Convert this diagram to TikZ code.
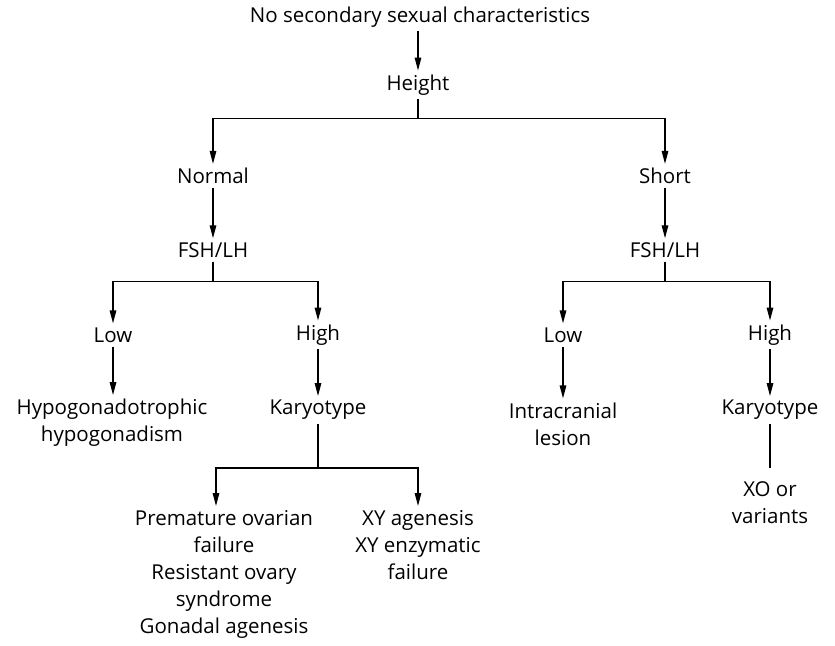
\documentclass[tikz,border=0pt]{standalone}
\usepackage{fontspec}
\setmainfont{Open Sans}
\usetikzlibrary{arrows.meta, positioning, calc}

\begin{document}
\begin{tikzpicture}[
    x=1pt, y=1pt,
    term/.style={font=\fontsize{20.5}{27}\selectfont, align=center, inner sep=4pt},
    arrow/.style={-{Triangle[length=13pt, width=6.5pt]}, line width=1.4pt},
    link/.style={line width=1.4pt},
]
\useasboundingbox (0,0) rectangle (835,-645);

% Top of the tree
\node[term] (start) at (420,-17) {No secondary sexual characteristics};
\node[term] (height) at (418,-85) {Height};

% Height branches
\node[term] (normal) at (213,-176) {Normal};
\node[term] (short) at (665,-176) {Short};
\node[term] (fshL) at (213,-250) {FSH/LH};
\node[term] (fshR) at (665,-250) {FSH/LH};

% FSH/LH levels
\node[term] (lowL) at (113,-335) {Low};
\node[term] (highL) at (318,-335) {High};
\node[term] (lowR) at (563,-335) {Low};
\node[term] (highR) at (770,-335) {High};

% Outcomes
\node[term] (hypo) at (112,-423) {Hypogonadotrophic\\hypogonadism};
\node[term] (karyL) at (318,-410) {Karyotype};
\node[term] (intra) at (563,-424) {Intracranial\\lesion};
\node[term] (karyR) at (770,-410) {Karyotype};
\node[term] (xo) at (770,-503) {XO or\\variants};
\node[term, anchor=north] (pof) at (224,-506) {Premature ovarian\\failure\\Resistant ovary\\syndrome\\Gonadal agenesis};
\node[term, anchor=north] (xy) at (418,-506) {XY agenesis\\XY enzymatic\\failure};

% Arrows
\draw[arrow] (start.south -| height) -- (height);
\draw[arrow] (height.south) -- ++(0,-19pt) -| (normal.north);
\draw[arrow] (height.south) -- ++(0,-19pt) -| (short.north);
\draw[arrow] (normal) -- (fshL);
\draw[arrow] (short) -- (fshR);
\draw[arrow] (fshL.south) -- ++(0,-20pt) -| (lowL.north);
\draw[arrow] (fshL.south) -- ++(0,-20pt) -| (highL.north);
\draw[arrow] (fshR.south) -- ++(0,-20pt) -| (lowR.north);
\draw[arrow] (fshR.south) -- ++(0,-20pt) -| (highR.north);
\draw[arrow] (lowL) -- (lowL |- hypo.north);
\draw[arrow] (highL) -- (karyL);
\draw[arrow] (lowR) -- (intra);
\draw[arrow] (highR) -- (karyR);
\draw[link, shorten >=10pt] (karyR) -- (xo);
\draw[arrow] (karyL.south) -- ++(0,-44pt) -| ([xshift=-8pt]pof.north);
\draw[arrow] (karyL.south) -- ++(0,-44pt) -| (xy.north);

\end{tikzpicture}
\end{document}
